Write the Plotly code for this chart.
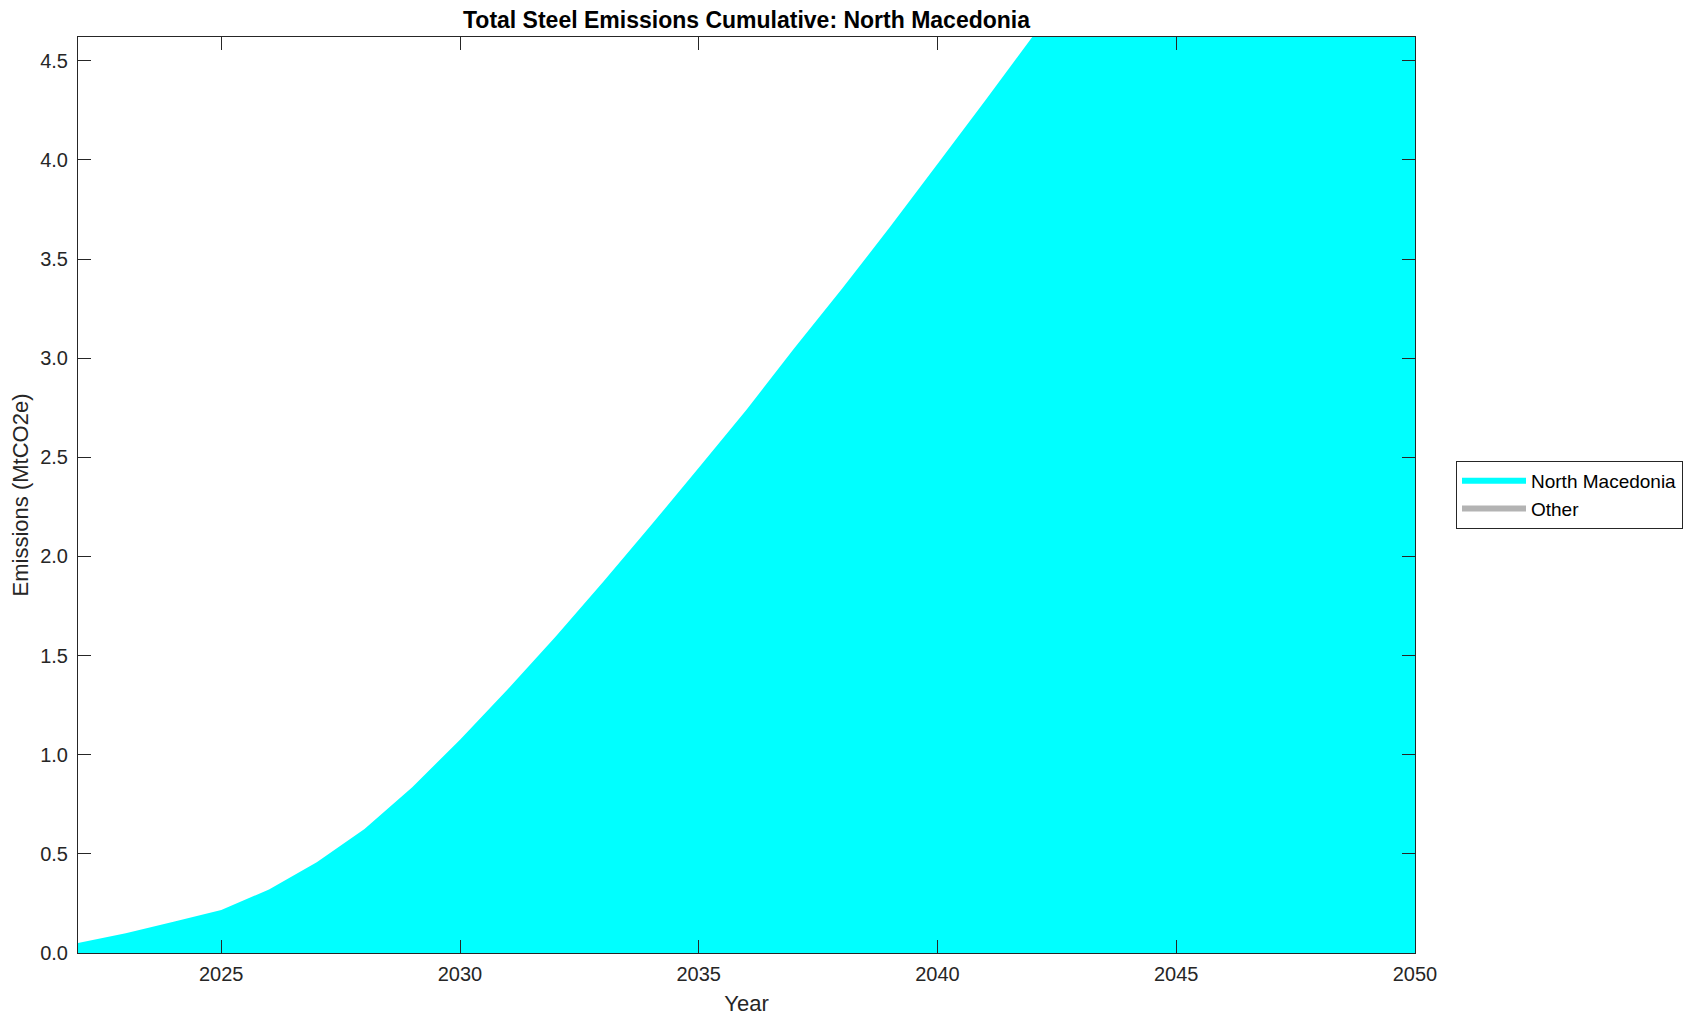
import plotly.graph_objects as go

years = list(range(2022, 2051))
north_macedonia = [0.05, 0.10, 0.158, 0.217, 0.32, 0.458, 0.625, 0.836, 1.076, 1.33,
                   1.595, 1.873, 2.157, 2.447, 2.74, 3.05, 3.35, 3.66, 3.98, 4.30,
                   4.625, 4.95, 5.27, 5.59, 5.91, 6.23, 6.55, 6.87, 7.19]
other = [0.0] * len(years)

y_ticks = [0.0, 0.5, 1.0, 1.5, 2.0, 2.5, 3.0, 3.5, 4.0, 4.5]
x_ticks = [2025, 2030, 2035, 2040, 2045, 2050]

FONT = "Liberation Sans, Arial, Helvetica, sans-serif"
W, H = 1698, 1021
OFF = 8  # page body margin
L, R, T, B = 78 - OFF, W + OFF - 1415, 37 - OFF, H + OFF - 953

fig = go.Figure()
fig.add_trace(go.Scatter(x=years, y=north_macedonia, name="North Macedonia",
                         stackgroup="one", mode="none",
                         fillcolor="#00ffff", line=dict(width=0)))
fig.add_trace(go.Scatter(x=years, y=other, name="Other",
                         stackgroup="one", mode="none",
                         fillcolor="#b3b3b3", line=dict(width=0)))

axis_common = dict(showline=True, linecolor="#262626", linewidth=1, mirror="allticks",
                   ticks="inside", ticklen=13, tickwidth=1, tickcolor="#262626",
                   showgrid=False, zeroline=False, automargin=False,
                   tickfont=dict(family=FONT, size=20, color="#262626"))

fig.update_layout(
    width=W, height=H,
    paper_bgcolor="white", plot_bgcolor="white",
    margin=dict(l=L, r=R, t=T, b=B, autoexpand=False),
    title=dict(text="<b>Total Steel Emissions Cumulative: North Macedonia</b>",
               x=(78 + 1415) / 2 / W - OFF / W, xanchor="center",
               y=1 - (19.5 - OFF) / H, yanchor="middle",
               font=dict(family=FONT, size=23, color="black")),
    xaxis=dict(range=[2022, 2050], tickvals=x_ticks, ticklabelstandoff=3,
               title=dict(text="Year", font=dict(family=FONT, size=22, color="#262626"), standoff=11),
               **axis_common),
    yaxis=dict(range=[0, 4.62], tickvals=y_ticks, tickformat=".1f", ticklabelstandoff=5,
               title=dict(text="Emissions (MtCO2e)", font=dict(family=FONT, size=22, color="#262626"), standoff=6),
               **axis_common),
    legend=dict(x=(1456 - 78) / (1415 - 78), xanchor="left", y=0.5, yanchor="middle",
                bordercolor="#262626", borderwidth=1, bgcolor="white",
                font=dict(family=FONT, size=19, color="black"),
                itemwidth=64, tracegroupgap=0, traceorder="normal"),
    showlegend=True,
)

fig.write_html("out.html")
